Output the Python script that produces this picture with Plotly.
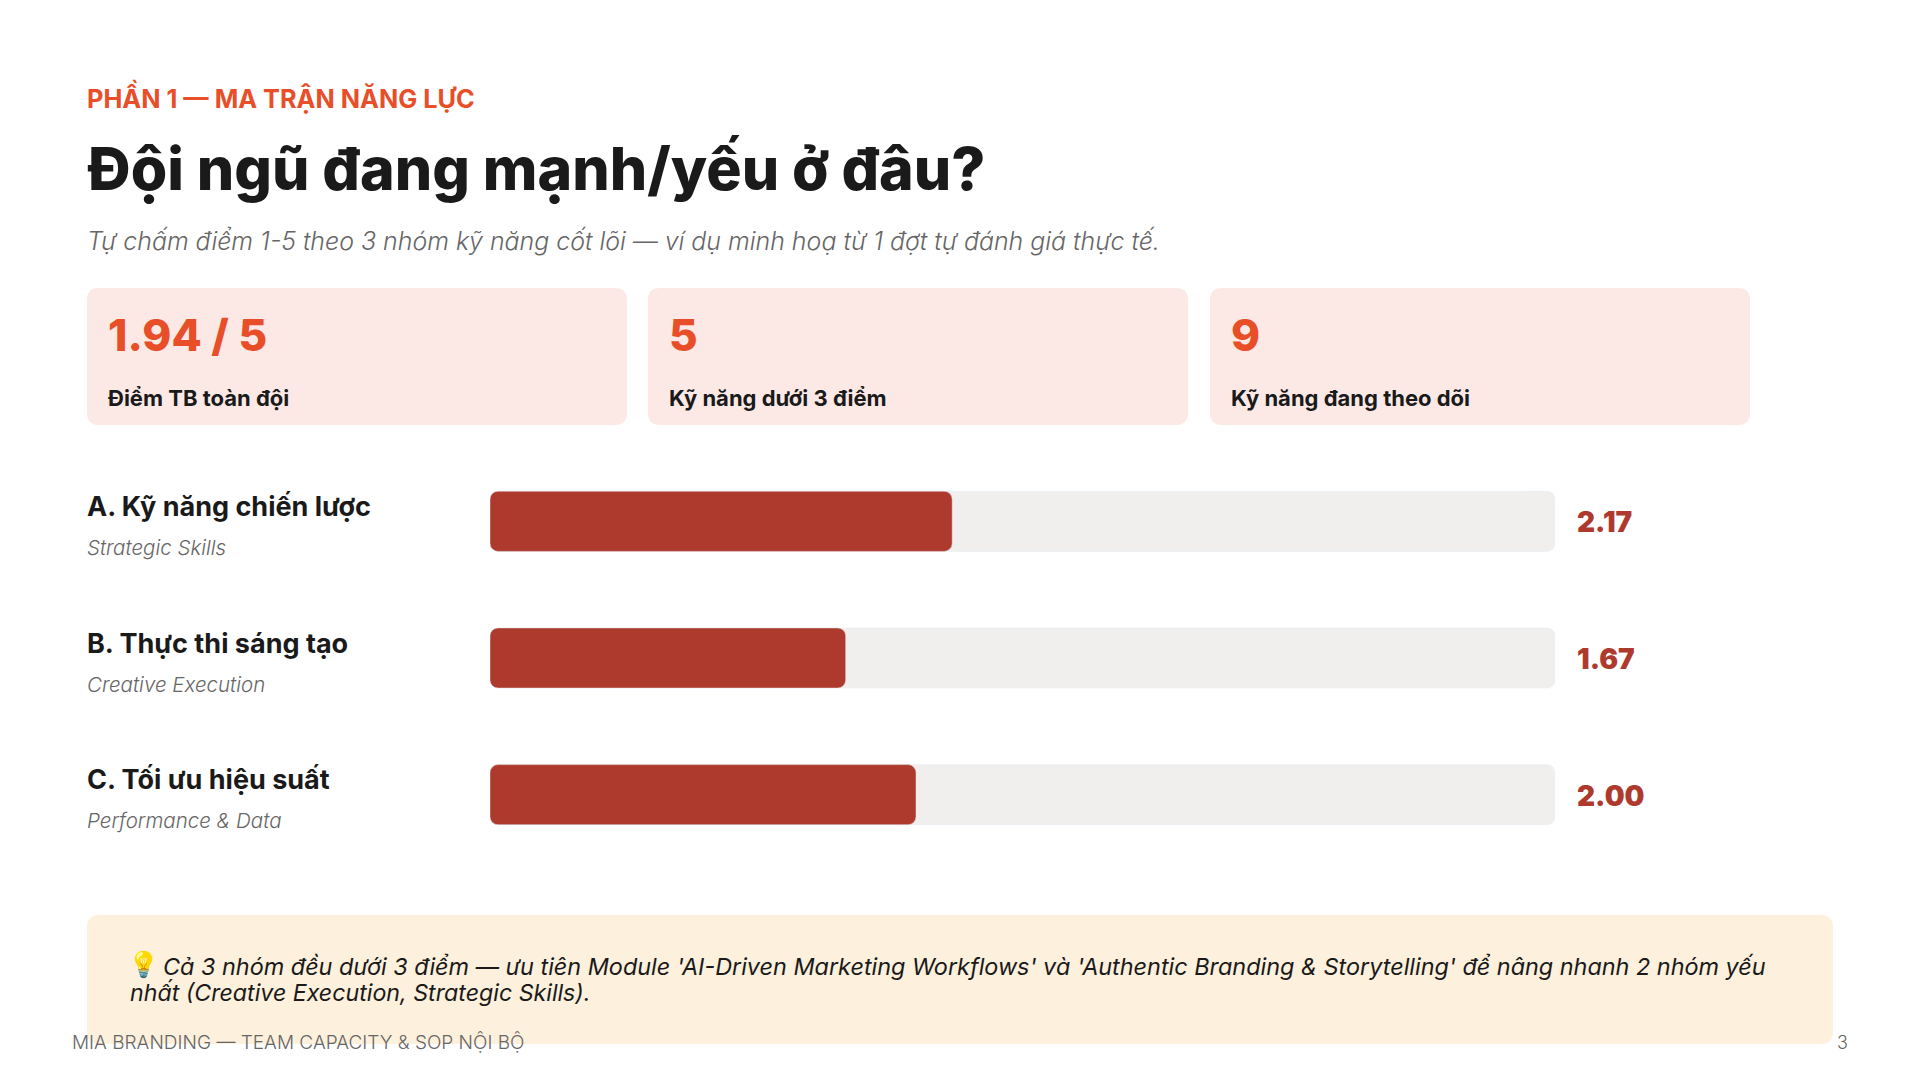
import plotly.graph_objects as go

W = 1920
H = 1080
FONT = "Inter"

categories = ["A. Kỹ năng chiến lược", "B. Thực thi sáng tạo", "C. Tối ưu hiệu suất"]
subtitles = ["Strategic Skills", "Creative Execution", "Performance & Data"]
scores = [2.17, 1.67, 2.00]
max_score = 5

card_values = ["1.94 / 5", "5", "9"]
card_labels = ["Điểm TB toàn đội", "Kỹ năng dưới 3 điểm", "Kỹ năng đang theo dõi"]

ORANGE = "#E84E27"
RED = "#AE3A2D"
DARK = "#1A1A1A"
GREY = "#666666"


def px(x):
    return x / W


def py(y):
    return 1 - y / H


def round_box(x0, y0, x1, y1, color, r=12):
    # plotly rect shapes have no radius, so draw the corners with a path
    X0, X1 = px(x0), px(x1)
    Y0, Y1 = py(y0), py(y1)
    rx, ry = r / W, r / H
    path = (
        f"M {X0 + rx} {Y0} L {X1 - rx} {Y0} Q {X1} {Y0} {X1} {Y0 - ry} "
        f"L {X1} {Y1 + ry} Q {X1} {Y1} {X1 - rx} {Y1} "
        f"L {X0 + rx} {Y1} Q {X0} {Y1} {X0} {Y1 + ry} "
        f"L {X0} {Y0 - ry} Q {X0} {Y0} {X0 + rx} {Y0} Z"
    )
    return dict(type="path", path=path, xref="paper", yref="paper",
                fillcolor=color, line_width=0, layer="below")


def label(x, y, text, size, color, weight=400, italic=False, anchor="left"):
    return dict(
        x=px(x), y=py(y), xref="paper", yref="paper", text=text, showarrow=False,
        xanchor=anchor, yanchor="middle", align="left",
        font=dict(family=FONT, size=size, color=color, weight=weight,
                  style="italic" if italic else "normal"),
    )


fig = go.Figure()
# an explicit base makes plotly round both ends of the bar
# separate axes for track and fill, overlay on one axis pair loses the rounding on the shorter bar
fig.add_trace(go.Bar(y=categories, x=[max_score] * len(categories), base=[0] * len(categories),
                     orientation="h", marker_color="#F0EFED", hoverinfo="skip"))
fig.add_trace(go.Bar(y=categories, x=scores, base=[0] * len(categories),
                     orientation="h", marker_color=RED, xaxis="x2", yaxis="y2"))

shapes = []
annotations = [
    label(85, 97, "PHẦN 1 — MA TRẬN NĂNG LỰC", 25.3, ORANGE, 700),
    label(85, 169, "Đội ngũ đang mạnh/yếu ở đâu?", 59, DARK, 800),
    label(85, 241, "Tự chấm điểm 1-5 theo 3 nhóm kỹ năng cốt lõi — ví dụ minh hoạ từ 1 đợt tự đánh giá thực tế.",
          24.9, GREY, 300, True),
]

card_x = [87, 648, 1210]
for x0, val, lab in zip(card_x, card_values, card_labels):
    shapes.append(round_box(x0, 288, x0 + 540, 425, "#FCE9E6"))
    annotations.append(label(x0 + 19, 335, val, 44, ORANGE, 800))
    annotations.append(label(x0 + 19, 398, lab, 22, DARK, 700))

for cat, sub, s in zip(categories, subtitles, scores):
    annotations.append(dict(x=px(85), y=cat, xref="paper", yref="y", text=cat, showarrow=False,
                            xanchor="left", yanchor="middle", yshift=15,
                            font=dict(family=FONT, size=27, color=DARK, weight=700)))
    annotations.append(dict(x=px(85), y=cat, xref="paper", yref="y", text=sub, showarrow=False,
                            xanchor="left", yanchor="middle", yshift=-26,
                            font=dict(family=FONT, size=20.5, color=GREY, weight=300, style="italic")))
    annotations.append(dict(x=max_score, y=cat, xref="x", yref="y", text=f"{s:.2f}", showarrow=False,
                            xanchor="left", yanchor="middle", xshift=20, yshift=-1,
                            font=dict(family=FONT, size=28, color=RED, weight=900)))

shapes.append(round_box(87, 915, 1833, 1044, "#FDF0DC"))
annotations.append(label(126, 964, "💡", 25, DARK))
annotations.append(label(
    161, 966,
    "Cả 3 nhóm đều dưới 3 điểm — ưu tiên Module 'AI-Driven Marketing Workflows' và "
    "'Authentic Branding & Storytelling' để nâng nhanh 2 nhóm yếu",
    23.4, DARK, 400, True))
annotations.append(label(128, 993, "nhất (Creative Execution, Strategic Skills).", 23.2, DARK, 400, True))
annotations.append(label(70, 1042, "MIA BRANDING — TEAM CAPACITY & SOP NỘI BỘ", 19, GREY, 300))
annotations.append(label(1850, 1042, "3", 18, GREY, 300, anchor="right"))

x_dom = [px(490), px(1555)]
y_dom = [py(863), py(453)]
fig.update_layout(
    width=W, height=H, margin=dict(l=0, r=0, t=0, b=0),
    paper_bgcolor="white", plot_bgcolor="white",
    barmode="overlay", bargap=0.56, barcornerradius=8, showlegend=False,
    xaxis=dict(visible=False, domain=x_dom, range=[0, max_score]),
    yaxis=dict(visible=False, domain=y_dom, range=[2.5, -0.5]),
    xaxis2=dict(visible=False, domain=x_dom, range=[0, max_score], overlaying="x"),
    yaxis2=dict(visible=False, domain=y_dom, range=[2.5, -0.5], overlaying="y"),
    shapes=shapes, annotations=annotations,
)

fig.write_html("out.html", config={"displayModeBar": False},
               post_script="document.body.style.margin='0'")
